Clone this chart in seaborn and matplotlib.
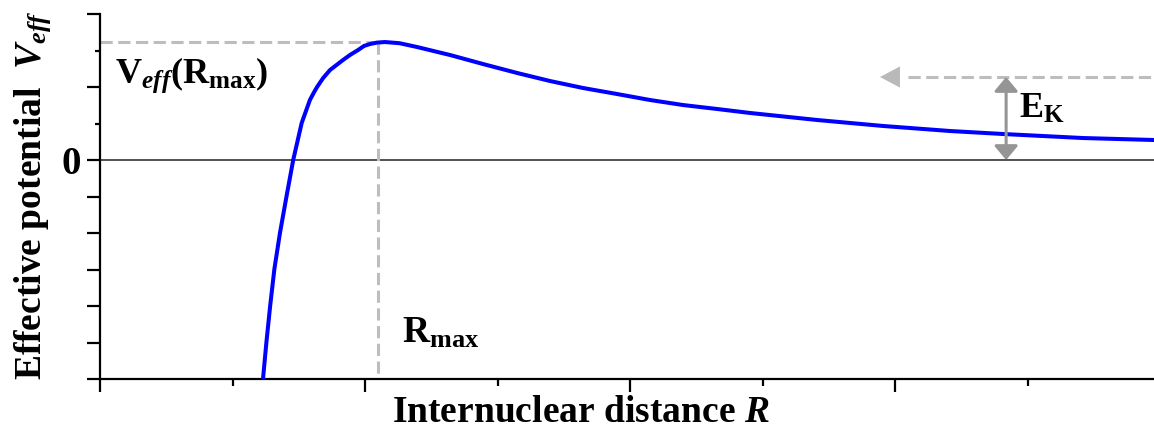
import matplotlib
matplotlib.use("Agg")
import matplotlib.pyplot as plt
import seaborn as sns

# curve (R in units of major x ticks, V in units of major y ticks)
R = [0.615, 0.628, 0.642, 0.658, 0.679, 0.704, 0.729, 0.761, 0.792, 0.806,
     0.819, 0.842, 0.868, 0.917, 0.943, 0.974, 0.996, 1.019, 1.045, 1.075,
     1.130, 1.196, 1.321, 1.445, 1.574, 1.698, 1.823, 1.951, 2.075, 2.200,
     2.328, 2.453, 2.706, 2.955, 3.208, 3.408, 3.709, 3.977]
V = [-3.0, -2.493, -2.0, -1.493, -1.0, -0.493, 0.0, 0.507, 0.822, 0.918,
     1.0, 1.123, 1.233, 1.370, 1.438, 1.507, 1.562, 1.589, 1.608, 1.616,
     1.600, 1.548, 1.438, 1.315, 1.192, 1.082, 0.986, 0.904, 0.822, 0.753,
     0.699, 0.644, 0.548, 0.466, 0.397, 0.356, 0.301, 0.274]

r_max = 1.049
v_max = 1.616
e_level = 1.137
ek_x = 3.419
arrow_tip = 2.943

x_major = [0, 1, 2, 3]
x_minor = [0.5, 1.5, 2.5, 3.5]
y_major = [2, 1, 0, -0.5, -1, -1.5, -2, -2.5, -3]
y_minor = [1.5, 0.5]
y_labels = ['', '', '0', '', '', '', '', '', '']

sns.set_theme(style='ticks')
plt.rcParams['font.family'] = ['Liberation Serif', 'DejaVu Serif']
plt.rcParams['font.weight'] = 'bold'
plt.rcParams['text.color'] = 'black'
plt.rcParams['axes.labelcolor'] = 'black'
plt.rcParams['mathtext.fontset'] = 'custom'
plt.rcParams['mathtext.rm'] = 'Liberation Serif:bold'
plt.rcParams['mathtext.bf'] = 'Liberation Serif:bold'
plt.rcParams['mathtext.it'] = 'Liberation Serif:italic:bold'

fig, ax = plt.subplots(figsize=(11.54, 4.37), dpi=100)
ax.set_position([100 / 1154, 58 / 437, 1054 / 1154, 365 / 437])

ax.axhline(0, color='#222222', lw=1.1, zorder=1)

# guides to the barrier top
guide = dict(color='#bdbdbd', lw=2.2, dashes=(4, 1.8), zorder=2)
ax.plot([0, r_max], [v_max, v_max], **guide)
ax.plot([r_max, r_max], [v_max, -3], **guide)

sns.lineplot(x=R, y=V, ax=ax, color='#0000ff', lw=2.9, estimator=None,
             sort=False, zorder=3)

# incoming energy level
ax.plot([3.05, 3.977], [e_level, e_level], **guide)
ax.annotate('', xy=(arrow_tip, e_level), xytext=(3.03, e_level),
            arrowprops=dict(arrowstyle='-|>,head_length=0.72,head_width=0.38',
                            mutation_scale=20, color='#b9b9b9', lw=0,
                            shrinkA=0, shrinkB=0))
ax.annotate('', xy=(ek_x, e_level), xytext=(ek_x, 0),
            arrowprops=dict(arrowstyle='<|-|>,head_length=0.43,head_width=0.36',
                            mutation_scale=20, color='#959595', lw=2.2,
                            shrinkA=0, shrinkB=0), zorder=4)

ax.text(0.057, 1.055, r'$\mathrm{V}_{eff}\mathrm{(}\mathrm{R}_{\mathrm{max}}\mathrm{)}$',
        fontsize=26, va='baseline', ha='left')
ax.text(1.140, -2.507, r'$\mathrm{R}_{\mathrm{max}}$', fontsize=27,
        va='baseline', ha='left')
ax.text(3.468, 0.575, r'$\mathrm{E}_{\mathrm{K}}$', fontsize=26,
        va='baseline', ha='left')

ax.set_xlim(0, 3.977)
ax.set_ylim(-3, 2)
ax.set_xticks(x_major)
ax.set_xticks(x_minor, minor=True)
ax.set_xticklabels([])
ax.set_yticks(y_major, labels=y_labels)
ax.set_yticks(y_minor, minor=True)
ax.tick_params(axis='x', which='major', length=9.4, width=1.6, direction='out', colors='black')
ax.tick_params(axis='x', which='minor', length=5, width=1.6, direction='out', colors='black')
ax.tick_params(axis='y', which='major', length=9.4, width=1.6, direction='out',
               labelsize=28, pad=4, colors='black')
ax.tick_params(axis='y', which='minor', length=3.6, width=1.6, direction='out', colors='black')
sns.despine(ax=ax)
for s in ['left', 'bottom']:
    ax.spines[s].set_linewidth(1.6)
    ax.spines[s].set_color('black')

ax.set_xlabel(r'Internuclear distance $R$', fontsize=27, fontweight='bold')
ax.set_ylabel(r'Effective potential  $V_{eff}$', fontsize=27, fontweight='bold')
ax.xaxis.label.set_va('baseline')
ax.yaxis.label.set_va('baseline')
ax.xaxis.set_label_coords((581 - 100) / 1054, (379 - 422) / 365)
ax.yaxis.set_label_coords((41 - 100) / 1054, (379 - 195) / 365)

fig.savefig('out.png', dpi=100)
